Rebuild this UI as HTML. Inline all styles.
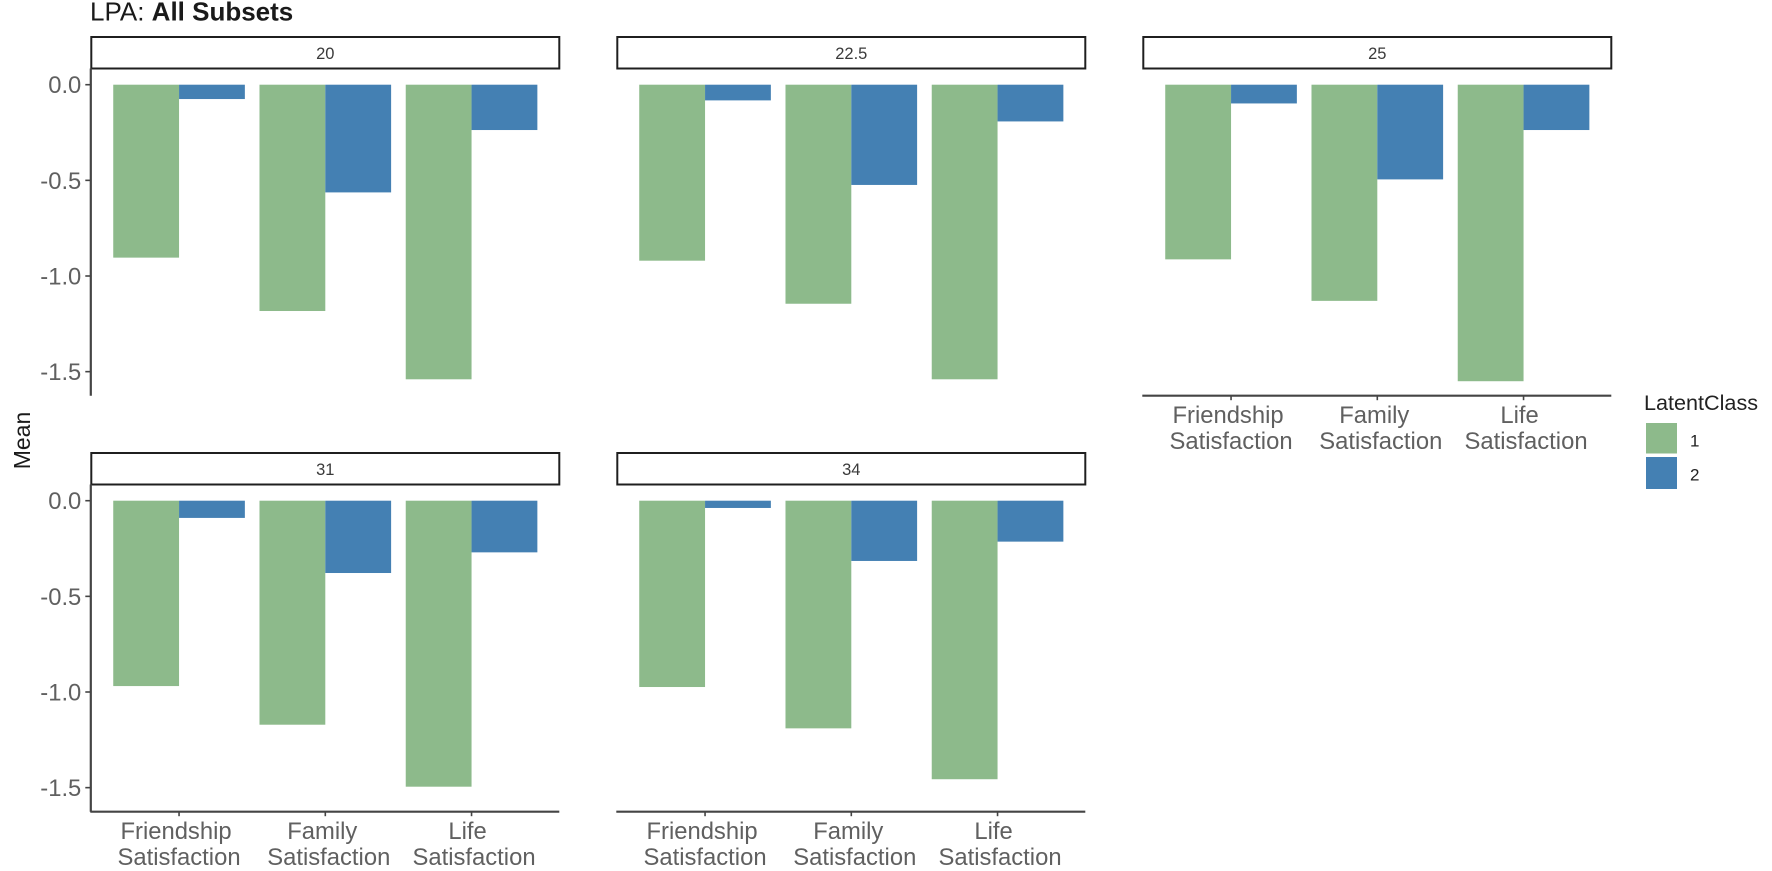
<!DOCTYPE html>
<html lang="en">
<head>
<meta charset="utf-8">
<title>LPA: All Subsets</title>
<style>
html,body{margin:0;padding:0;background:#fff;width:1772px;height:871px;overflow:hidden}
svg{display:block;font-family:"Liberation Sans",Arial,sans-serif}
</style>
</head>
<body>
<svg id="chart" xmlns="http://www.w3.org/2000/svg" width="1772" height="871" viewBox="0 0 1772 871">
  <rect x="0" y="0" width="1772" height="871" fill="#fff"/>
  <text x="90" y="20.5" font-size="26" fill="#1a1a1a">LPA: <tspan font-weight="bold">All Subsets</tspan></text>
  <text transform="translate(30,440.5) rotate(-90)" text-anchor="middle" font-size="23" fill="#1a1a1a">Mean</text>
  <g>
    <text x="1644" y="410" font-size="21.6" fill="#222">LatentClass</text>
    <rect x="1646" y="423" width="31" height="30.5" fill="#8DBA8B"/>
    <text x="1690" y="446.5" font-size="17" fill="#222">1</text>
    <rect x="1646" y="457" width="31" height="32" fill="#4480B3"/>
    <text x="1690" y="480.5" font-size="17" fill="#222">2</text>
  </g>
</svg>
<script>
// ---- chart data ----
const facets = ["20", "22.5", "25", "31", "34"];
const categories = [["Friendship", "Satisfaction"], ["Family", "Satisfaction"], ["Life", "Satisfaction"]];
const yTicks = [0, -0.5, -1.0, -1.5];
const yTickLabels = ["0.0", "-0.5", "-1.0", "-1.5"];
const class1Values = [
  [-0.904, -1.183, -1.540],
  [-0.920, -1.145, -1.540],
  [-0.913, -1.130, -1.550],
  [-0.969, -1.171, -1.495],
  [-0.974, -1.190, -1.456]
];
const class2Values = [
  [-0.075, -0.563, -0.237],
  [-0.082, -0.524, -0.192],
  [-0.098, -0.495, -0.237],
  [-0.090, -0.378, -0.270],
  [-0.038, -0.315, -0.214]
];

// ---- layout ----
const NS = "http://www.w3.org/2000/svg";
const svg = document.getElementById("chart");
const PANEL_W = 468, PANEL_STEP = 526, LEFT0 = 91.3;
const ROW_ZERO = [84.7, 500.7];
const ROW_AXIS_BOTTOM = [395.7, 811.7];
const ROW_STRIP_TOP = [37, 453];
const STRIP_H = 31.5;
const PX_PER_UNIT = 191.3;
const BAND = PANEL_W / 3.2;
const BAR_W = BAND * 0.45;
const AXIS_COLOR = "#444";
const TICK_TEXT = "#606060";
const firstLineShift = [-3, -3, -4];
const secondLineShift = [0, 3.5, 2.5];

function panelLeft(col) { return LEFT0 + col * PANEL_STEP; }
function xCenter(left, i) { return left + (0.6 + i) * BAND; }
function yPos(row, v) { return ROW_ZERO[row] - v * PX_PER_UNIT; }

function make(parent, tag, attrs, text) {
  const el = document.createElementNS(NS, tag);
  for (const k in attrs) el.setAttribute(k, attrs[k]);
  if (text !== undefined) el.textContent = text;
  parent.appendChild(el);
  return el;
}

facets.forEach(function (facet, idx) {
  const row = idx < 3 ? 0 : 1;
  const col = idx < 3 ? idx : idx - 3;
  const left = panelLeft(col);
  const zero = ROW_ZERO[row];
  const bottom = ROW_AXIS_BOTTOM[row];
  const stripTop = ROW_STRIP_TOP[row];
  const hasXAxis = row === 1 || col === 2;

  const g = make(svg, "g", {});
  
  

  const strip = make(g, "rect", { x: left, y: stripTop, width: PANEL_W, height: STRIP_H, fill: "#fff", stroke: "#1f1f1f", "stroke-width": 2 });
  
  

  const stripLabel = make(g, "text", { x: left + PANEL_W / 2, y: stripTop + 22, "text-anchor": "middle", "font-size": 16.5, fill: "#3a3a3a" }, facet);
  
  

  categories.forEach(function (cat, i) {
    const c = xCenter(left, i);
    const v1 = class1Values[idx][i];
    const v2 = class2Values[idx][i];

    const bar1 = make(g, "rect", { x: c - BAR_W, y: zero, width: BAR_W, height: yPos(row, v1) - zero, fill: "#8DBA8B" });
    
    

    const bar2 = make(g, "rect", { x: c, y: zero, width: BAR_W, height: yPos(row, v2) - zero, fill: "#4480B3" });
    
    

    if (hasXAxis) {
      const tick = make(g, "line", { x1: c, x2: c, y1: bottom, y2: bottom + 4.5, stroke: AXIS_COLOR, "stroke-width": 1.6 });
      
      

      const l1 = make(g, "text", { x: c + firstLineShift[i], y: bottom + 27.5, "text-anchor": "middle", "font-size": 23.8, fill: TICK_TEXT }, cat[0]);
      
      

      const l2 = make(g, "text", { x: c + secondLineShift[i], y: bottom + 53.5, "text-anchor": "middle", "font-size": 23.8, fill: TICK_TEXT }, cat[1]);
      
      
    }
  });

  if (hasXAxis) {
    const xAxis = make(g, "line", { x1: left - 1, x2: left + PANEL_W, y1: bottom, y2: bottom, stroke: AXIS_COLOR, "stroke-width": 2.2 });
    
    
  }

  if (col === 0) {
    const yAxis = make(g, "line", { x1: left - 0.5, x2: left - 0.5, y1: stripTop + STRIP_H, y2: bottom, stroke: AXIS_COLOR, "stroke-width": 2.2 });
    
    

    yTicks.forEach(function (t, j) {
      const y = yPos(row, t);
      const tick = make(g, "line", { x1: left - 6, x2: left, y1: y, y2: y, stroke: AXIS_COLOR, "stroke-width": 1.6 });
      
      

      const lab = make(g, "text", { x: left - 10, y: y + 8.4, "text-anchor": "end", "font-size": 23.8, fill: TICK_TEXT }, yTickLabels[j]);
      
      
    });
  }
});
</script>
</body>
</html>
